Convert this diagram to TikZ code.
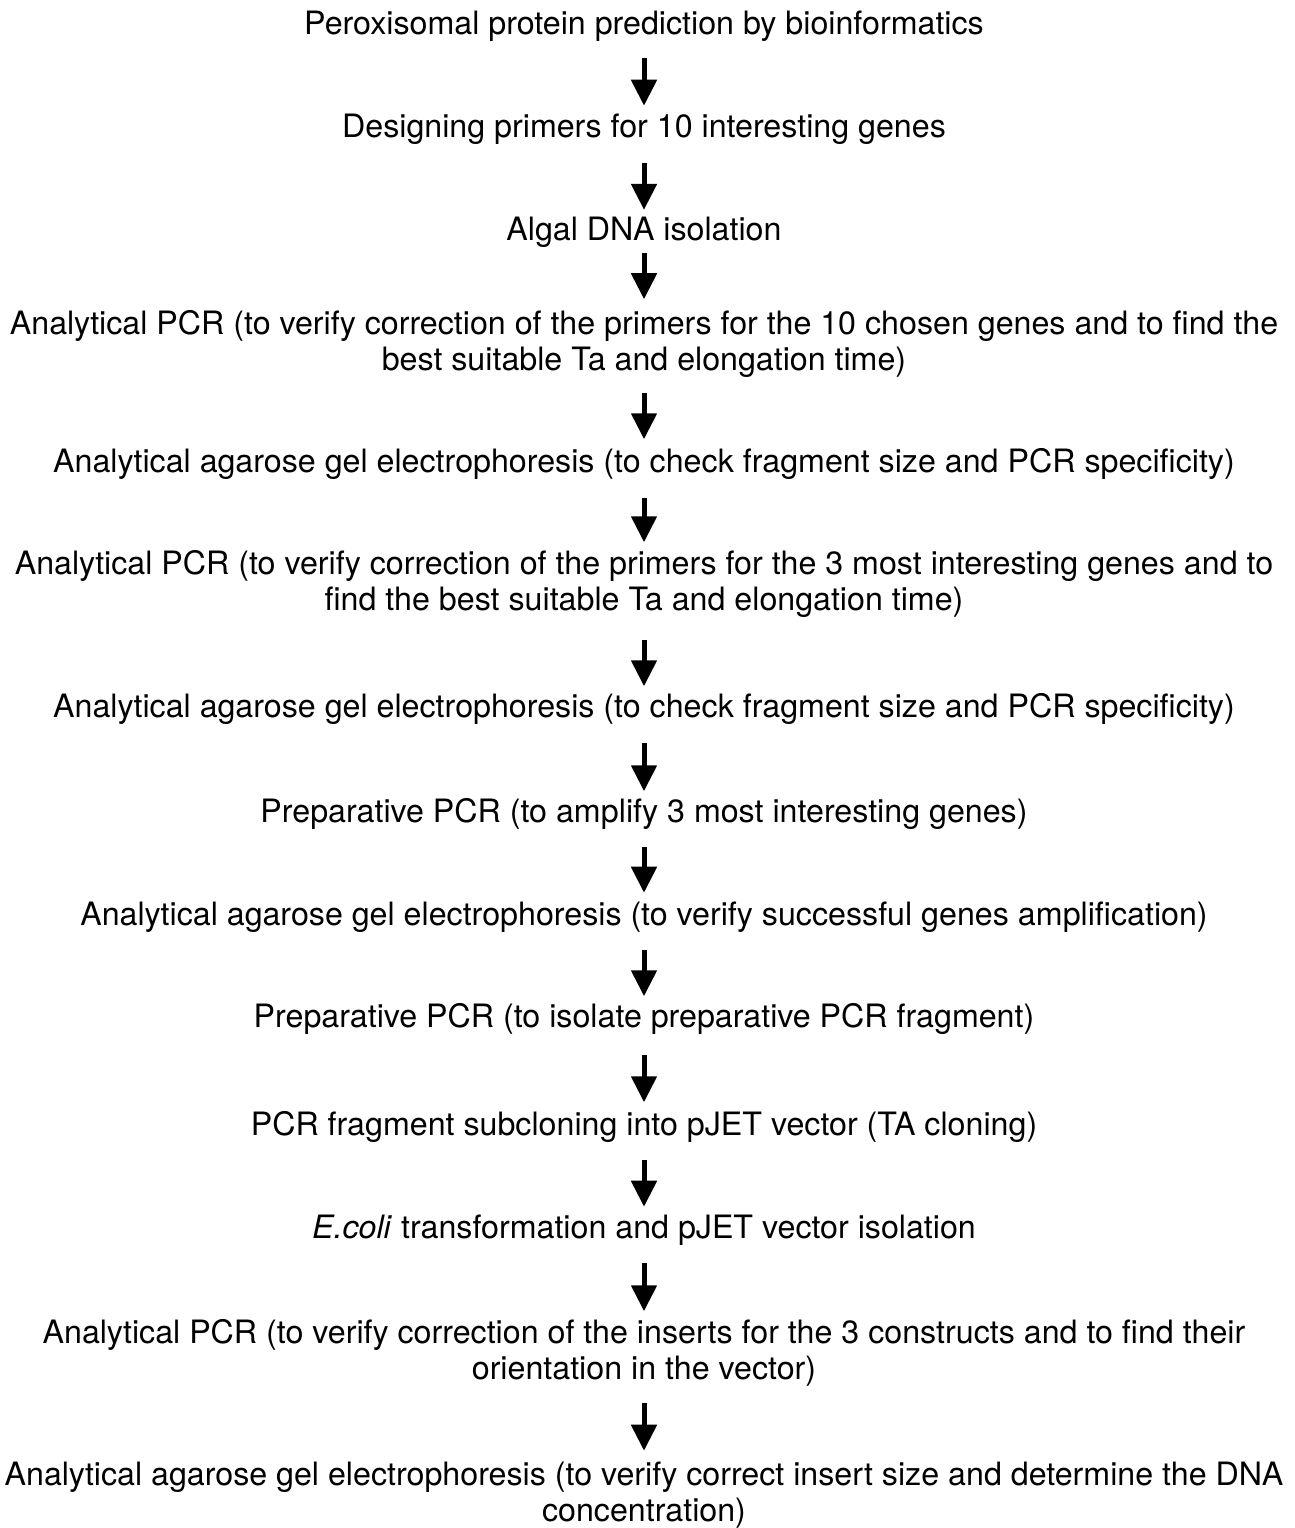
\documentclass[tikz,border=0pt]{standalone}
\usepackage{fontspec}
\setmainfont{TeX Gyre Heros}
\usetikzlibrary{arrows.meta}
\tikzset{
  stepnode/.style={anchor=base, inner sep=0pt, align=center,
    font=\fontsize{32.2pt}{36.5pt}\selectfont},
  flow/.style 2 args={line width=5pt, -{Triangle[width=25pt,length=26pt]},
    shorten <=#1pt, shorten >=#2pt}
}
\begin{document}
\begin{tikzpicture}[x=1pt,y=-1pt]
\useasboundingbox[fill=white] (0,0) rectangle (1295,1528);
\def\cx{644}
\node[stepnode] (n1) at (\cx,35) {Peroxisomal protein prediction by bioinformatics};
\node[stepnode] (n2) at (\cx,137) {Designing primers for 10 interesting genes};
\node[stepnode] (n3) at (\cx,240) {Algal DNA isolation};
\node[stepnode] (n4) at (\cx,370.5) {Analytical PCR (to verify correction of the primers for the 10 chosen genes and to find the\\best suitable Ta and elongation time)};
\node[stepnode] (n5) at (\cx,472) {Analytical agarose gel electrophoresis (to check fragment size and PCR specificity)};
\node[stepnode] (n6) at (\cx,610.5) {Analytical PCR (to verify correction of the primers for the 3 most interesting genes and to\\find the best suitable Ta and elongation time)};
\node[stepnode] (n7) at (\cx,717) {Analytical agarose gel electrophoresis (to check fragment size and PCR specificity)};
\node[stepnode] (n8) at (\cx,822) {Preparative PCR (to amplify 3 most interesting genes)};
\node[stepnode] (n9) at (\cx,925) {Analytical agarose gel electrophoresis (to verify successful genes amplification)};
\node[stepnode] (n10) at (\cx,1027) {Preparative PCR (to isolate preparative PCR fragment)};
\node[stepnode] (n11) at (\cx,1135) {PCR fragment subcloning into pJET vector (TA cloning)};
\node[stepnode] (n12) at (\cx,1238) {\textit{E.coli} transformation and pJET vector isolation};
\node[stepnode] (n13) at (\cx,1379.5) {Analytical PCR (to verify correction of the inserts for the 3 constructs and to find their\\orientation in the vector)};
\node[stepnode] (n14) at (\cx,1521.5) {Analytical agarose gel electrophoresis (to verify correct insert size and determine the DNA\\concentration)};
\draw[flow={16}{7.5}] (n1) -- (n2);
\draw[flow={19}{6.5}] (n2) -- (n3);
\draw[flow={6}{10.5}] (n3) -- (n4);
\draw[flow={15.5}{8.5}] (n4) -- (n5);
\draw[flow={19}{7.5}] (n5) -- (n6);
\draw[flow={22.5}{6.5}] (n6) -- (n7);
\draw[flow={19}{6.5}] (n7) -- (n8);
\draw[flow={18}{8.5}] (n8) -- (n9);
\draw[flow={18}{6.5}] (n9) -- (n10);
\draw[flow={21}{8.5}] (n10) -- (n11);
\draw[flow={18}{7.5}] (n11) -- (n12);
\draw[flow={18}{7.5}] (n12) -- (n13);
\draw[flow={16.5}{10.5}] (n13) -- (n14);
\end{tikzpicture}
\end{document}
